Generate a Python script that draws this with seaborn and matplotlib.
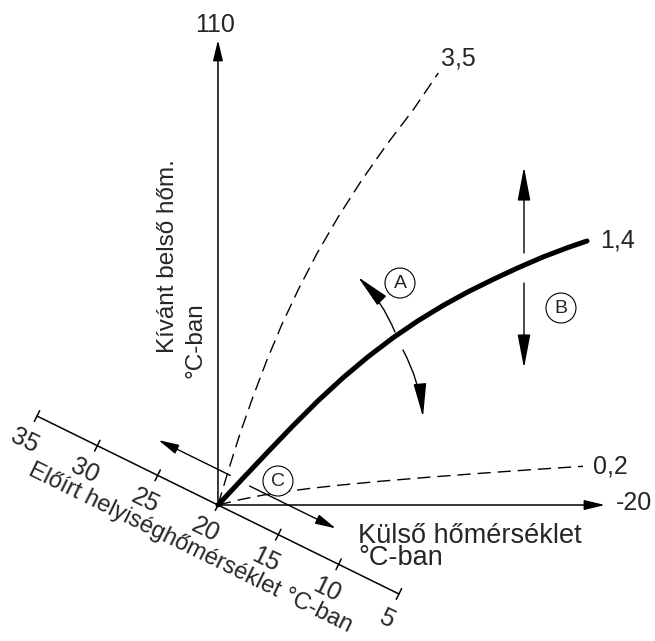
import numpy as np
import pandas as pd
import matplotlib.pyplot as plt
import seaborn as sns
from matplotlib.patches import Ellipse

sns.set_theme(style='white')
plt.rcParams['font.family'] = ['Liberation Sans', 'DejaVu Sans']

# Fűtési görbék (külső hőm. -> előremenő hőm.)
kulso_35 = [20, 18.88, 17.70, 16.39, 14.98, 13.42, 11.67, 9.74, 7.58, 5.20, 2.59, -0.24, -2.77]
elore_35 = [20, 26.97, 33.94, 40.90, 47.87, 54.84, 61.81, 68.78, 75.74, 82.71, 89.68, 96.65, 103.61]
kulso_14 = [20, 17.42, 14.83, 12.25, 9.66, 7.08, 4.50, 1.91, -0.67, -3.26, -5.84, -8.42,
            -11.01, -13.59, -16.18, -18.14]
elore_14 = [20, 25.17, 30.30, 35.33, 40.17, 44.62, 48.68, 52.36, 55.65, 58.61, 61.26, 63.65,
            65.91, 68.0, 69.84, 71.1]
kulso_02 = [20, 17.73, 15.45, 13.18, 10.49, 7.39, 3.26, -1.91, -8.11, -13.28, -17.73]
elore_02 = [20, 21.03, 21.88, 22.55, 23.21, 23.85, 24.59, 25.40, 26.27, 26.95, 27.49]
meredekseg = ['3,5', '1,4', '0,2']
helyiseg_ticks = [35, 30, 25, 20, 15, 10, 5]
x_max, y_max = -20, 110

fig = plt.figure(figsize=(6.55, 6.41), dpi=100)
ax = fig.add_axes([0, 0, 1, 1])
ax.set_xlim(42.53, -25.17)
ax.set_ylim(-6.32, 117.74)
ax.axis('off')

W, H = 655, 641
sx = W / (ax.get_xlim()[1] - ax.get_xlim()[0])
sy = H / (ax.get_ylim()[1] - ax.get_ylim()[0])
O = (20, 20)


def px(dx, dy, base=O):
    # base pont eltolva dx, dy pixellel (dy felfelé)
    return base[0] + dx / sx, base[1] + dy / sy


def arrow(start, end, hl=1.25, hw=0.3, lw=1.0, rad=0.0):
    ax.annotate('', xy=end, xytext=start,
                arrowprops=dict(arrowstyle=f'-|>,head_length={hl},head_width={hw}',
                                mutation_scale=10, lw=lw, color='black',
                                shrinkA=0, shrinkB=0,
                                connectionstyle=f'arc3,rad={rad}'))


fs = 18

# tengelyek
arrow(O, (20, y_max), lw=1.1)
arrow(O, (x_max, 20), lw=1.1)
ax.annotate('110', xy=(20, y_max), xytext=(-3, 15), textcoords='offset pixels',
            ha='center', va='center', fontsize=fs)
ax.annotate(str(x_max), xy=(x_max, 20), xytext=(29, 2), textcoords='offset pixels',
            ha='center', va='center', fontsize=fs)

# fűtési görbék
sns.lineplot(x=kulso_35, y=elore_35, sort=False, color='black', lw=1.0,
             linestyle=(0, (9.5, 5)), ax=ax)
sns.lineplot(x=kulso_14, y=elore_14, sort=False, color='black', lw=3.6,
             solid_capstyle='round', solid_joinstyle='round', ax=ax)
sns.lineplot(x=kulso_02, y=elore_02, sort=False, color='black', lw=1.0,
             linestyle=(0, (9.5, 5)), ax=ax)

ends = [(kulso_35[-1], elore_35[-1]), (kulso_14[-1], elore_14[-1]),
        (kulso_02[-1], elore_02[-1])]
offs = [(20, 15), (31, 0), (27, 0)]
for lab, e, o in zip(meredekseg, ends, offs):
    ax.annotate(lab, xy=e, xytext=o, textcoords='offset pixels',
                ha='center', va='center', fontsize=fs)

# ferde tengely (előírt helyiséghőmérséklet)
ux, uy = 0.897, -0.441      # a csökkenő hőmérséklet iránya
nx, ny = 0.441, 0.897       # merőleges, jobbra-fel
step = 13.45                # pixel / °C
ang = -26.2


def along(t, n):
    return px(t * ux + n * nx, t * uy + n * ny)


def room(r, n=0.0):
    return along((20 - r) * step, n)


p0, p1 = room(helyiseg_ticks[0]), room(helyiseg_ticks[-1])
ax.plot([p0[0], p1[0]], [p0[1], p1[1]], color='black', lw=1.1)
for r in helyiseg_ticks:
    a, b = room(r, -6), room(r, 6)
    ax.plot([a[0], b[0]], [a[1], b[1]], color='black', lw=1.1)
    lx, ly = room(r, -28)
    ax.text(lx, ly, str(r), rotation=ang, rotation_mode='anchor',
            ha='center', va='center', fontsize=fs)
lx, ly = along(-6, -51)
ax.text(lx, ly, 'Előírt helyiséghőmérséklet °C-ban', rotation=ang,
        rotation_mode='anchor', ha='center', va='center', fontsize=17)

arrow(along(-2, 32), along(-82, 32))
arrow(along(20, 31), along(116, 31))

# tengelyfeliratok
ax.annotate('Külső hőmérséklet\n°C-ban', xy=O, xytext=(140, -18),
            textcoords='offset pixels', ha='left', va='top', fontsize=19.5,
            linespacing=0.82)
ax.annotate('Kívánt belső hőm.', xy=O, xytext=(-50, 249), textcoords='offset pixels',
            ha='center', va='center', rotation=90, fontsize=17.5)
ax.annotate('°C-ban', xy=O, xytext=(-22, 165), textcoords='offset pixels',
            ha='center', va='center', rotation=90, fontsize=17.5)

# A: meredekség, B: párhuzamos eltolás
arrow(px(177, 173), px(140, 228), hl=2.1, hw=0.4, rad=0.1)
arrow(px(185, 155), px(205, 88), hl=2.1, hw=0.4, rad=-0.1)
arrow(px(306, 252), px(306, 338), hl=2.1, hw=0.4)
arrow(px(306, 222), px(306, 137), hl=2.1, hw=0.4)

for lab, (dx, dy) in zip(['A', 'B', 'C'], [(182, 222), (343, 197), (60, 24)]):
    c = px(dx, dy)
    ax.add_patch(Ellipse(c, 30 / abs(sx), 30 / sy, fc='white', ec='black',
                         lw=0.8, zorder=5))
    ax.text(c[0], c[1], lab, ha='center', va='center', fontsize=14, zorder=6)

fig.savefig('out.png', dpi=100)
